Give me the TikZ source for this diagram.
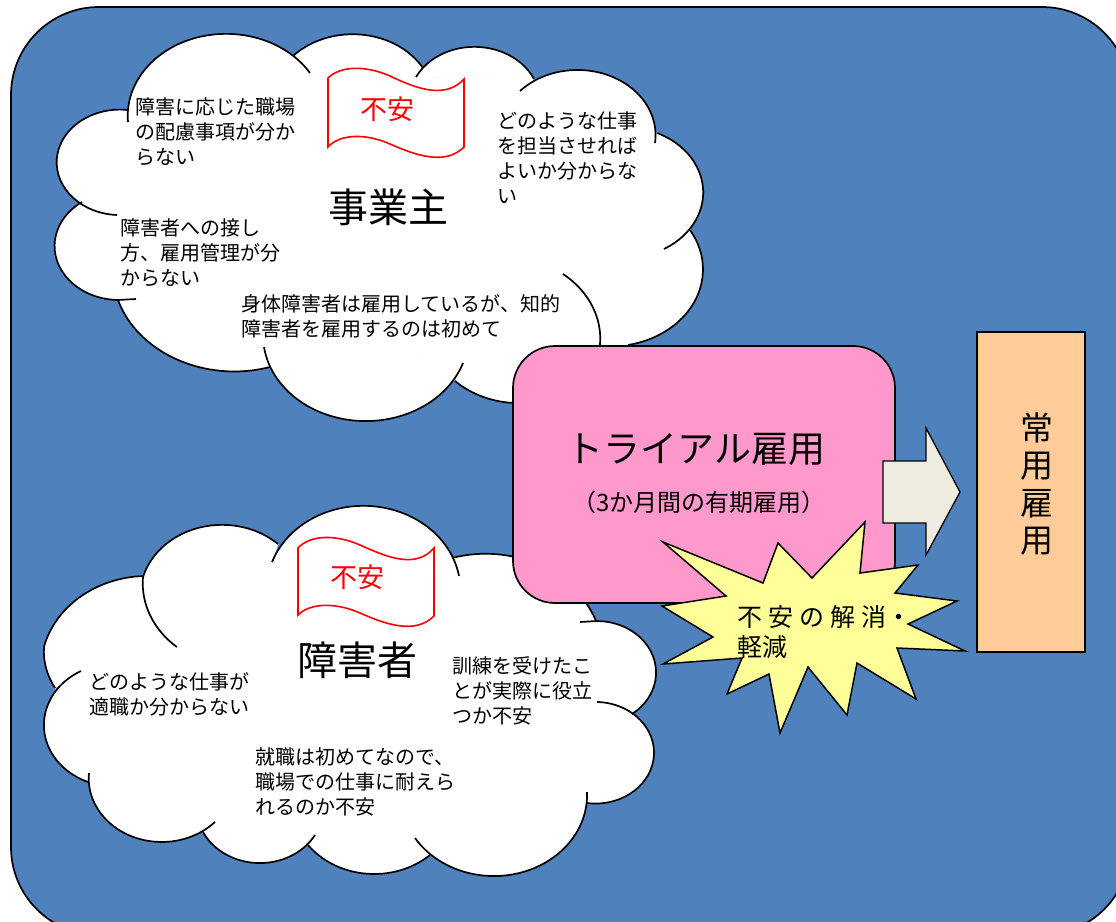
\documentclass[tikz,border=0pt]{standalone}
\usepackage{fontspec}
\newfontfamily\cjk{Noto Sans CJK JP}
\definecolor{bgblue}{HTML}{4F81BD}
\definecolor{pinkbox}{HTML}{FF99CC}
\definecolor{starfill}{HTML}{FFFF99}
\definecolor{peach}{HTML}{FFCC99}
\definecolor{arrowfill}{HTML}{EEECE1}
\tikzset{
  lobefill/.style={fill=white,draw=white,line width=0.7pt},
  lobeline/.style={draw=black,line width=1.7pt,line cap=butt},
  flagline/.style={draw=red,line width=1.6pt,fill=white,line join=miter},
  bodytext/.style={anchor=north west,inner sep=0pt,align=left,font=\cjk\fontsize{20}{25.2}\selectfont},
  bigtext/.style={inner sep=0pt,font=\cjk\fontsize{40}{46}\selectfont},
  redtext/.style={inner sep=0pt,text=red,font=\cjk\fontsize{27}{30}\selectfont}
}
% elliptical arc through three points (start, middle, end); \kk is the width/height ratio
\newcommand{\arccalc}[6]{%
  \pgfmathsetmacro\Ax{#1/100}\pgfmathsetmacro\Ay{#2*\kk/100}%
  \pgfmathsetmacro\Bx{#3/100}\pgfmathsetmacro\By{#4*\kk/100}%
  \pgfmathsetmacro\Cx{#5/100}\pgfmathsetmacro\Cy{#6*\kk/100}%
  \pgfmathsetmacro\Dd{2*(\Ax*(\By-\Cy)+\Bx*(\Cy-\Ay)+\Cx*(\Ay-\By))}%
  \pgfmathsetmacro\Aq{\Ax*\Ax+\Ay*\Ay}%
  \pgfmathsetmacro\Bq{\Bx*\Bx+\By*\By}%
  \pgfmathsetmacro\Cq{\Cx*\Cx+\Cy*\Cy}%
  \pgfmathsetmacro\Ux{(\Aq*(\By-\Cy)+\Bq*(\Cy-\Ay)+\Cq*(\Ay-\By))/\Dd}%
  \pgfmathsetmacro\Uy{(\Aq*(\Cx-\Bx)+\Bq*(\Ax-\Cx)+\Cq*(\Bx-\Ax))/\Dd}%
  \pgfmathsetmacro\Rr{100*sqrt((\Ax-\Ux)*(\Ax-\Ux)+(\Ay-\Uy)*(\Ay-\Uy))}%
  \pgfmathsetmacro\Ry{\Rr/\kk}%
  \pgfmathsetmacro\Ta{atan2(\Ay-\Uy,\Ax-\Ux)}%
  \pgfmathsetmacro\Tb{atan2(\By-\Uy,\Bx-\Ux)}%
  \pgfmathsetmacro\Tc{atan2(\Cy-\Uy,\Cx-\Ux)}%
  \pgfmathsetmacro\Db{mod(\Tb-\Ta+720,360)}%
  \pgfmathsetmacro\Dc{mod(\Tc-\Ta+720,360)}%
  \pgfmathsetmacro\Te{\Db<\Dc ? \Ta+\Dc : \Ta+\Dc-360}%
}
\newcommand{\fillarc}[6]{\arccalc{#1}{#2}{#3}{#4}{#5}{#6}%
  \path[lobefill] (#1,#2) arc[start angle=\Ta,end angle=\Te,x radius=\Rr,y radius=\Ry] -- cycle;}
\newcommand{\drawarc}[6]{\arccalc{#1}{#2}{#3}{#4}{#5}{#6}%
  \draw[lobeline] (#1,#2) arc[start angle=\Ta,end angle=\Te,x radius=\Rr,y radius=\Ry];}
\newcommand{\arcsA}[1]{%
  #1{128}{122}{220}{34}{310}{73}%
  #1{293}{56}{365}{35}{423}{68}%
  #1{416}{77}{470}{47}{534}{79}%
  #1{520}{91}{580}{70}{655}{143}%
  #1{657}{133}{703}{197}{664}{249}%
  #1{690}{230}{703}{270}{628}{345}%
  #1{563}{274}{600}{333}{590}{375}%
  #1{590}{375}{525}{403}{455}{381}%
  #1{463}{363}{370}{421}{264}{347}%
  #1{270}{367}{183}{362}{118}{300}%
  #1{118}{300}{55}{240}{82}{202}%
  #1{117}{215}{57}{157}{128}{110}%
}
\newcommand{\arcsB}[1]{%
  #1{459}{576}{357}{506}{272}{562}%
  #1{278}{544}{217}{525}{143}{577}%
  #1{143}{577}{150}{615}{177}{647}%
  #1{143}{576}{80}{597}{44}{647}%
  #1{44}{647}{46}{668}{55}{688}%
  #1{81}{671}{44}{722}{88}{782}%
  #1{89}{773}{163}{842}{215}{822}%
  #1{203}{832}{257}{863}{315}{835}%
  #1{308}{845}{373}{874}{430}{855}%
  #1{415}{838}{497}{876}{587}{792}%
  #1{587}{803}{654}{753}{597}{702}%
  #1{632}{714}{656}{675}{597}{621}%
  #1{596}{621}{510}{556}{452}{558}%
}
\begin{document}
\begin{tikzpicture}[x=1pt,y=-1pt]
\useasboundingbox (0,0) rectangle (1116,921);
\clip (0,0) rectangle (1116,921);
\fill[white] (0,0) rectangle (1116,921);
\draw[fill=bgblue,line width=1.7pt,rounded corners=88pt] (11,7) rectangle (1130,935);

% ---- cloud 1
\path[lobefill] (128,122) -- (310,73) -- (293,56) -- (423,68) -- (416,77) -- (534,79) -- (520,91) -- (655,143) -- (657,133) -- (664,249) -- (690,230) -- (628,345) -- (590,375) -- (455,381) -- (463,363) -- (264,347) -- (270,367) -- (118,300) -- (82,202) -- (117,215) -- (128,110) -- cycle;
\def\kk{1.2}
\arcsA{\fillarc}
\arcsA{\drawarc}
\coordinate (tickA) at (136,299);
\coordinate (tickB) at (118,300);
\draw[lobeline] (tickA) -- (tickB);

% ---- cloud 2
\path[lobefill] (459,576) -- (272,562) -- (278,544) -- (143,577) -- (143,576) -- (44,647) -- (55,688) -- (81,671) -- (88,782) -- (89,773) -- (215,822) -- (203,832) -- (315,835) -- (308,845) -- (430,855) -- (415,838) -- (587,792) -- (587,803) -- (597,702) -- (632,714) -- (597,621) -- (452,558) -- cycle;
\def\kk{1.15}
\arcsB{\fillarc}
\arcsB{\drawarc}
\coordinate (tickC) at (597,621);
\coordinate (tickD) at (580,622);
\draw[lobeline] (tickC) -- (tickD);

% ---- flags
\draw[flagline] (328,78) .. controls (340,66) and (365,65) .. (390,76) .. controls (415,88) and (445,100) .. (464,79) -- (464,147) .. controls (445,166) and (415,155) .. (390,144) .. controls (365,133) and (340,134) .. (328,147) -- cycle;
\draw[flagline] (298,548) .. controls (310,535) and (335,534) .. (360,545) .. controls (385,556) and (415,570) .. (434,548) -- (434,616) .. controls (415,635) and (385,624) .. (360,613) .. controls (335,602) and (310,603) .. (298,615) -- cycle;
\node[redtext] (flagA) at (387,109) {不安};
\node[redtext] (flagB) at (357,577) {不安};

% ---- texts
\node[bigtext] (employer) at (388,207) {事業主};
\node[bigtext] (worker) at (357,660) {障害者};
\node[bodytext] (t1) at (135,97.5) {障害に応じた職場\\の配慮事項が分か\\らない};
\node[bodytext] (t2) at (497,111) {どのような仕事\\を担当させれば\\よいか分からな\\い};
\node[bodytext] (t3) at (120,218) {障害者への接し\\方、雇用管理が分\\からない};
\node[bodytext] (t4) at (241,294) {身体障害者は雇用しているが、知的\\障害者を雇用するのは初めて};
\node[bodytext] (t5) at (89,672.5) {どのような仕事が\\適職か分からない};
\node[bodytext] (t6) at (255,747) {就職は初めてなので、\\職場での仕事に耐えら\\れるのか不安};
\node[bodytext] (t7) at (452,656.5) {訓練を受けたこ\\とが実際に役立\\つか不安};

% ---- trial box
\draw[fill=pinkbox,line width=1.7pt,rounded corners=42pt] (513,346) rectangle (895,603);
\node[inner sep=0pt,font=\cjk\fontsize{37}{44}\selectfont] (trial) at (696,449) {トライアル雇用};
\node[inner sep=0pt,font=\cjk\fontsize{24}{28}\selectfont] (trialsub) at (699,502) {（3か月間の有期雇用）};

% ---- arrow
\draw[fill=arrowfill,line width=1.3pt,line join=miter] (883,461) -- (926,461) -- (926,428) -- (960,492) -- (926,555) -- (926,523) -- (883,523) -- cycle;

% ---- regular box
\draw[fill=peach,line width=1.5pt] (977,332) rectangle (1085,652);
\node[inner sep=0pt,align=center,font=\cjk\fontsize{33}{37.5}\selectfont] (regular) at (1037,484) {常\\用\\雇\\用};

% ---- star
\draw[fill=starfill,line width=1.5pt,line join=miter] (663,542) -- (763,583) -- (778,543) -- (812,578) -- (865,522) -- (860,573) -- (918,565) -- (895,593) -- (957,601) -- (908,624) -- (965,651) -- (897,648) -- (916,699) -- (857,663) -- (847,715) -- (808,667) -- (780,733) -- (769,674) -- (727,694) -- (742,658) -- (663,664) -- (713,637) -- (662,606) -- (726,596) -- cycle;
\node[anchor=west,inner sep=0pt,font=\cjk\fontsize{25}{30}\selectfont] (relief1) at (737,617) {\makebox[149pt][s]{不\hfill 安\hfill の\hfill 解\hfill 消}・};
\node[anchor=west,inner sep=0pt,font=\cjk\fontsize{25}{30}\selectfont] (relief2) at (737,647) {軽減};
\end{tikzpicture}
\end{document}
